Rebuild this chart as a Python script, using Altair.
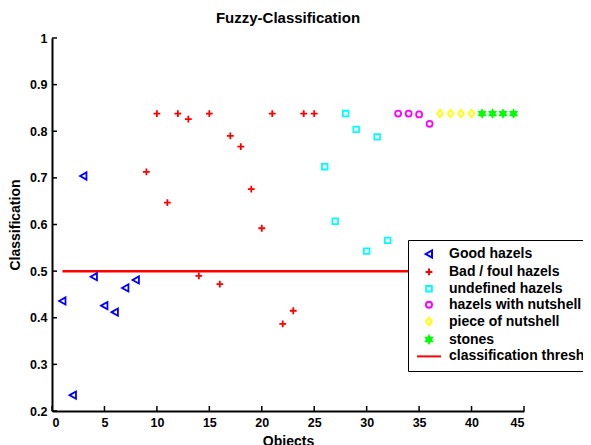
import altair as alt
import pandas as pd

categories = ["Good hazels", "Bad / foul hazels", "undefined hazels",
              "hazels with nutshell", "piece of nutshell", "stones",
              "classification threshold"]

good_x = [1, 2, 3, 4, 5, 6, 7, 8]
good_y = [0.436, 0.234, 0.704, 0.488, 0.426, 0.412, 0.464, 0.481]
bad_x = [9, 10, 11, 12, 13, 14, 15, 16, 17, 18, 19, 20, 21, 22, 23, 24, 25]
bad_y = [0.713, 0.838, 0.647, 0.838, 0.826, 0.490, 0.838, 0.472, 0.790,
         0.767, 0.676, 0.592, 0.838, 0.387, 0.415, 0.838, 0.838]
undef_x = [26, 27, 28, 29, 30, 31, 32]
undef_y = [0.724, 0.607, 0.838, 0.804, 0.543, 0.788, 0.566]
nutshell_x = [33, 34, 35, 36]
nutshell_y = [0.838, 0.838, 0.836, 0.816]
piece_x = [37, 38, 39, 40]
piece_y = [0.838, 0.838, 0.838, 0.838]
stones_x = [41, 42, 43, 44]
stones_y = [0.838, 0.838, 0.838, 0.838]
threshold_x = [1, 45]
threshold_y = [0.5, 0.5]

x_ticks = [0, 5, 10, 15, 20, 25, 30, 35, 40, 45]
y_ticks = [0.2, 0.3, 0.4, 0.5, 0.6, 0.7, 0.8, 0.9, 1.0]

colors = ["#0000ff", "#ff0000", "#00ffff", "#ff00ff", "#ffff00", "#00ff00", "#ff0000"]
fills = ["transparent", "transparent", "transparent", "transparent", "transparent", "#00ff00", "transparent"]
shapes = [
    "M-0.85,0L0.75,-0.9L0.75,0.9Z",
    "M-0.85,0L0.85,0M0,-0.85L0,0.85",
    "M-0.7,-0.7L0.7,-0.7L0.7,0.7L-0.7,0.7Z",
    "M0.75,0A0.75,0.75,0,1,1,-0.75,0A0.75,0.75,0,1,1,0.75,0Z",
    "M0,-0.95L0.7,0L0,0.95L-0.7,0Z",
    "M0,-0.85L0.245,-0.425L0.736,-0.425L0.49,0L0.736,0.425L0.245,0.425L0,0.85L-0.245,0.425L-0.736,0.425L-0.49,0L-0.736,-0.425L-0.245,-0.425Z",
    "M-3,0L3,0",
]

rows = []
for cat, xs, ys in [(categories[0], good_x, good_y), (categories[1], bad_x, bad_y),
                    (categories[2], undef_x, undef_y), (categories[3], nutshell_x, nutshell_y),
                    (categories[4], piece_x, piece_y), (categories[5], stones_x, stones_y)]:
    for xv, yv in zip(xs, ys):
        rows.append({"obj": xv, "cls": yv, "cat": cat})
points_df = pd.DataFrame(rows)
thr_df = pd.DataFrame({"x1": [threshold_x[0]], "x2": [threshold_x[1]], "y": [threshold_y[0]]})
xt_df = pd.DataFrame({"t": x_ticks})
yt_df = pd.DataFrame({"t": y_ticks})

FONT = "Liberation Sans"
W, H = 472, 373

xscale = alt.Scale(domain=[0, 45], nice=False, zero=False)
yscale = alt.Scale(domain=[0.2, 1.0], nice=False, zero=False)

legend = alt.Legend(title=None, orient="none", legendX=356, legendY=202,
                    fillColor="white", strokeColor="black", padding=7,
                    labelFont=FONT, labelFontSize=14, labelFontWeight="bold",
                    labelColor="black", symbolSize=64, symbolStrokeWidth=2,
                    symbolOffset=7, labelOffset=13, rowPadding=1.9, labelLimit=400)

points = alt.Chart(points_df).mark_point(filled=False, size=64, strokeWidth=1.8, opacity=1).encode(
    x=alt.X("obj:Q", scale=xscale,
            axis=alt.Axis(values=x_ticks, title="Objects", ticks=False, grid=False, format="~g")),
    y=alt.Y("cls:Q", scale=yscale,
            axis=alt.Axis(values=y_ticks, title="Classification", ticks=False, grid=False, format="~g")),
    color=alt.Color("cat:N", scale=alt.Scale(domain=categories, range=colors), legend=legend),
    fill=alt.Fill("cat:N", scale=alt.Scale(domain=categories, range=fills), legend=legend),
    shape=alt.Shape("cat:N", scale=alt.Scale(domain=categories, range=shapes), legend=legend),
)

thr = alt.Chart(thr_df).mark_rule(color="#ff0000", strokeWidth=2.5).encode(
    x="x1:Q", x2="x2:Q", y="y:Q")

xt = alt.Chart(xt_df).mark_rule(color="black", strokeWidth=1.5).encode(
    x="t:Q", y=alt.value(H), y2=alt.value(H - 5))
yt = alt.Chart(yt_df).mark_rule(color="black", strokeWidth=1.5).encode(
    y="t:Q", x=alt.value(0), x2=alt.value(5))

chart = alt.layer(xt, yt, thr, points).properties(
    width=W, height=H,
    title=alt.TitleParams("Fuzzy-Classification", font=FONT, fontSize=15, fontWeight="bold",
                          color="black", offset=6, anchor="middle"),
    autosize=alt.AutoSizeParams(type="none"),
    padding={"left": 44, "top": 30, "right": 59, "bottom": 40},
).configure_view(stroke=None).configure_axis(
    domainColor="black", domainWidth=2, labelFont=FONT, labelFontSize=12.5,
    labelFontWeight="bold", labelColor="black", labelPadding=5,
    titleFont=FONT, titleFontSize=14, titleFontWeight="bold", titleColor="black",
).configure_axisX(titlePadding=6).configure_axisY(titlePadding=7)

chart.save("out.html", embed_options={"renderer": "svg", "actions": False})
